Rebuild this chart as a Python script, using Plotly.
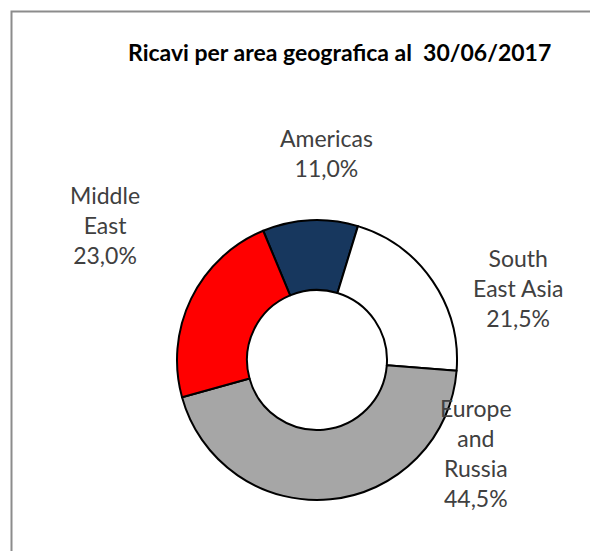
import plotly.graph_objects as go

labels = ["Americas", "South East Asia", "Europe and Russia", "Middle East"]
label_lines = ["Americas", "South<br>East Asia", "Europe<br>and<br>Russia", "Middle<br>East"]
values = [11.0, 21.5, 44.5, 23.0]
colors = ["#17375E", "#FFFFFF", "#A6A6A6", "#FF0000"]
title = "Ricavi per area geografica al  30/06/2017"

W, H = 598, 551
OFF = 8  # page offset of the plot div


def px(x):
    return (x - OFF) / W


def py(y):
    return 1 - (y - OFF) / H


# label anchor positions (screen pixels, center of text block)
label_pos = [(326, 153), (518, 288), (476, 453), (105, 225)]

fig = go.Figure()
fig.add_trace(go.Pie(
    labels=labels, values=values, sort=False, direction="clockwise",
    rotation=-22.6, hole=0.5,
    marker=dict(colors=colors, line=dict(color="#000000", width=2)),
    textinfo="none", hoverinfo="label+percent", showlegend=False,
    domain=dict(x=[px(177), px(457)], y=[py(500), py(220)]),
))

for lab, v, (x, y) in zip(label_lines, values, label_pos):
    txt = f"{lab}<br>{v:.1f}%".replace(".", ",")
    fig.add_annotation(x=px(x), y=py(y), xref="paper", yref="paper",
                       text=txt, showarrow=False, xanchor="center", yanchor="middle",
                       font=dict(family="Lato", size=23, color="#404040"))

fig.add_annotation(x=px(339), y=py(52), xref="paper", yref="paper",
                   text=f"<b>{title}</b>", showarrow=False, xanchor="center", yanchor="middle",
                   font=dict(family="Lato", size=23, color="#000000"))

fig.add_shape(type="rect", xref="paper", yref="paper",
              x0=px(11.5), x1=1.2, y0=-0.2, y1=py(11.5),
              line=dict(color="#8C8C8C", width=2))

fig.update_layout(width=W, height=H, margin=dict(l=0, r=0, t=0, b=0),
                  paper_bgcolor="white", plot_bgcolor="white")
fig.write_html("out.html")
